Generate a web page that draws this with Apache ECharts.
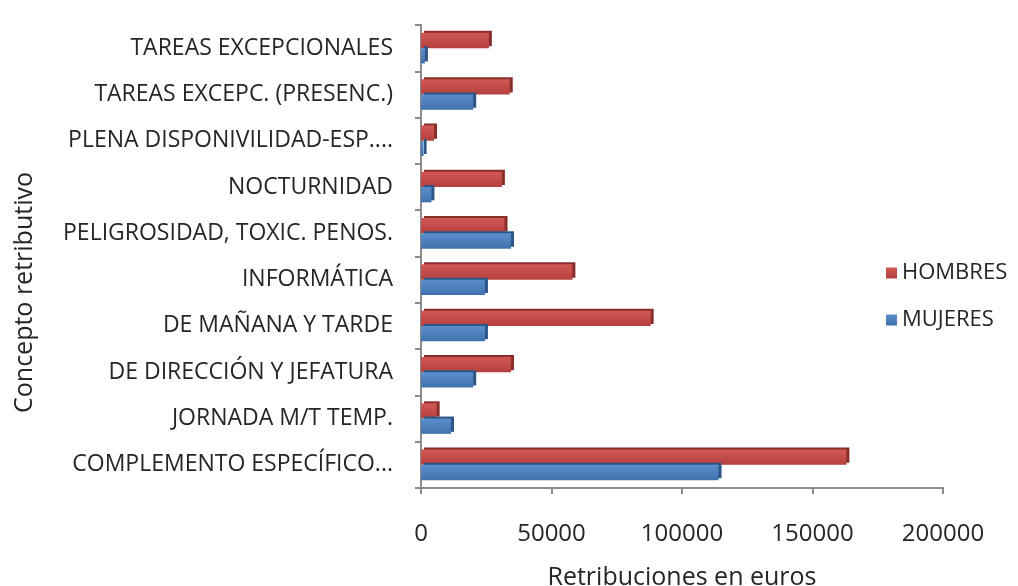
<!DOCTYPE html>
<html>
<head>
<meta charset="utf-8">
<script src="https://cdn.jsdelivr.net/npm/echarts@6/dist/echarts.min.js"></script>
<style>html,body{margin:0;padding:0;background:#fff;}#c{width:1018px;height:586px;}</style>
</head>
<body>
<div id="c"></div>
<script>
const categories = [
  'COMPLEMENTO ESPECÍFICO...',
  'JORNADA M/T TEMP.',
  'DE DIRECCIÓN Y JEFATURA',
  'DE MAÑANA Y TARDE',
  'INFORMÁTICA',
  'PELIGROSIDAD, TOXIC. PENOS.',
  'NOCTURNIDAD',
  'PLENA DISPONIVILIDAD-ESP....',
  'TAREAS EXCEPC. (PRESENC.)',
  'TAREAS EXCEPCIONALES'
];
const hombres = [163000, 6000, 34500, 88000, 58000, 32000, 31000, 5000, 34000, 26000];
const mujeres = [114000, 11500, 20000, 24500, 24500, 34500, 4000, 1000, 20000, 1500];
const xTicks = { min: 0, max: 200000, interval: 50000 };

const chart = echarts.init(document.getElementById('c'));
const font = 'Open Sans';
function grad(c1, c2) {
  return new echarts.graphic.LinearGradient(0, 0, 0, 1, [
    { offset: 0, color: c1 }, { offset: 1, color: c2 }
  ]);
}
chart.setOption({
  animation: false,
  backgroundColor: '#ffffff',
  textStyle: { fontFamily: font },
  grid: { left: 421, right: 75, top: 25, bottom: 98, outerBoundsMode: 'none', containLabel: false },
  legend: {
    orient: 'vertical',
    left: 881, top: 257,
    itemWidth: 11, itemHeight: 11, itemGap: 25,
    data: ['HOMBRES', 'MUJERES'],
    textStyle: { fontFamily: font, fontSize: 22, color: '#262626' },
    icon: 'rect'
  },
  xAxis: {
    type: 'value',
    min: xTicks.min, max: xTicks.max, interval: xTicks.interval,
    name: 'Retribuciones en euros',
    nameLocation: 'middle', nameGap: 77,
    nameTextStyle: { fontFamily: font, fontSize: 25, color: '#262626' },
    axisLine: { show: true, lineStyle: { color: '#8c8c8c', width: 2 } },
    axisTick: { show: true, length: 6, lineStyle: { color: '#8c8c8c', width: 2 } },
    splitLine: { show: false },
    axisLabel: { fontFamily: font, fontSize: 24, color: '#262626', margin: 34,
      formatter: v => String(v) }
  },
  yAxis: {
    type: 'category',
    data: categories,
    name: 'Concepto retributivo',
    nameLocation: 'middle', nameGap: 384, nameRotate: 90,
    nameTextStyle: { fontFamily: font, fontSize: 25, color: '#262626', padding: [0, 72, 0, 0] },
    axisLine: { show: true, lineStyle: { color: '#8c8c8c', width: 2 } },
    axisTick: { show: true, length: 6, lineStyle: { color: '#8c8c8c', width: 2 } },
    axisLabel: { fontFamily: font, fontSize: 23, color: '#262626', margin: 28 }
  },
  series: [
    {
      name: 'HOMBRES', type: 'bar', data: hombres,
      barCategoryGap: '34%', barGap: '0%',
      itemStyle: {
        color: grad('#d05855', '#b5403d'),
        shadowColor: '#8a2e2c', shadowOffsetX: 3, shadowOffsetY: -2, shadowBlur: 0
      }
    },
    {
      name: 'MUJERES', type: 'bar', data: mujeres,
      barCategoryGap: '34%', barGap: '0%',
      itemStyle: {
        color: grad('#5b8fcc', '#3f72ad'),
        shadowColor: '#2d5686', shadowOffsetX: 3, shadowOffsetY: -2, shadowBlur: 0
      }
    }
  ]
});
</script>
</body>
</html>
